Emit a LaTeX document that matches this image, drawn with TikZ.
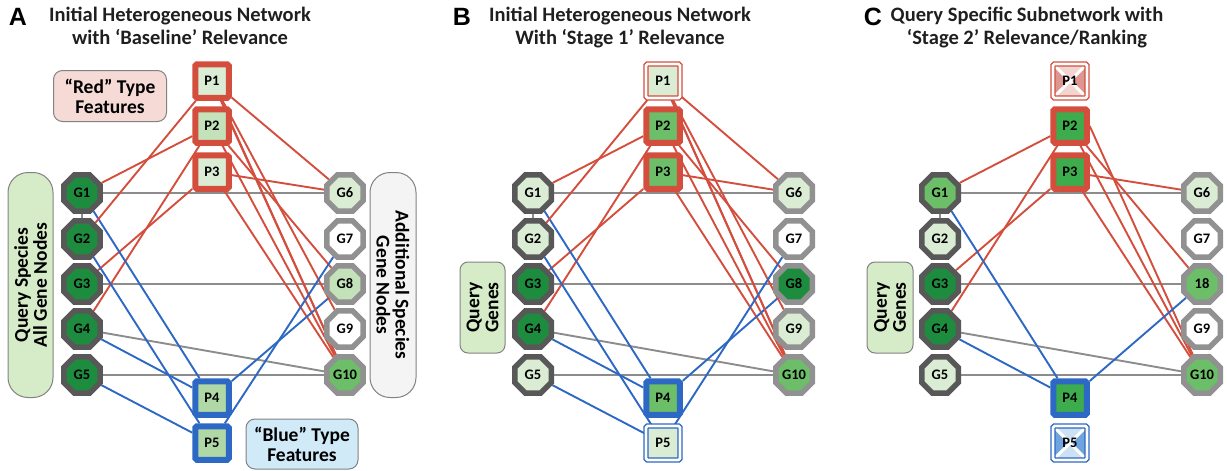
\documentclass[tikz,border=0pt]{standalone}
\usepackage{fontspec}
\setmainfont{Carlito}
\newfontfamily\letterfont{Liberation Sans}
\usetikzlibrary{shapes.geometric,backgrounds}
\definecolor{dkgreen}{RGB}{30,140,62}
\definecolor{mdgreen}{RGB}{108,190,104}
\definecolor{brgreen}{RGB}{60,172,76}
\definecolor{ltgreen}{RGB}{218,236,212}
\definecolor{plgreen}{RGB}{196,226,186}
\definecolor{pgA}{RGB}{176,216,166}
\definecolor{redc}{RGB}{212,78,62}
\definecolor{bluec}{RGB}{44,104,196}
\definecolor{grayE}{RGB}{140,140,140}
\definecolor{gdark}{RGB}{88,88,88}
\definecolor{glight}{RGB}{145,145,145}
\definecolor{pinkbox}{RGB}{246,218,214}
\definecolor{bluebox}{RGB}{208,234,248}
\definecolor{greenbox}{RGB}{214,235,200}
\definecolor{graybox}{RGB}{244,244,244}
\definecolor{boxline}{RGB}{130,130,130}
\definecolor{pinkX}{RGB}{222,150,144}
\definecolor{pinkXl}{RGB}{242,212,208}
\definecolor{blueX}{RGB}{110,165,222}
\definecolor{blueXl}{RGB}{205,225,245}
\tikzset{
 gn/.style={regular polygon, regular polygon sides=8, minimum size=39.5pt, line width=5.5pt, inner sep=0pt, font=\bfseries\fontsize{14.5}{14.5}\selectfont},
 gL/.style={gn, draw=gdark},
 gR/.style={gn, draw=glight},
 pn/.style={rectangle, minimum size=33.5pt, inner sep=0pt, line width=6pt, rounded corners=1.5pt, font=\bfseries\fontsize{14.5}{14.5}\selectfont},
 pR/.style={pn, draw=redc},
 pB/.style={pn, draw=bluec},
 pRd/.style={pn, minimum size=34pt, line width=1.4pt, draw=redc, double=white, double distance=2.6pt},
 pBd/.style={pn, minimum size=34pt, line width=1.4pt, draw=bluec, double=white, double distance=2.6pt},
 xpat/.style 2 args={path picture={
   \fill[#2] (path picture bounding box.north west) rectangle (path picture bounding box.south east);
   \fill[#1] (path picture bounding box.north west) -- (path picture bounding box.center) -- (path picture bounding box.south west) -- cycle;
   \fill[#1] (path picture bounding box.north east) -- (path picture bounding box.center) -- (path picture bounding box.south east) -- cycle;
   \draw[white, line width=3pt] (path picture bounding box.north west) -- (path picture bounding box.south east)
     (path picture bounding box.north east) -- (path picture bounding box.south west);}},
 re/.style={draw=redc, line width=1.9pt},
 be/.style={draw=bluec, line width=1.9pt},
 ge/.style={draw=grayE, line width=1.9pt},
 ttl/.style={font=\bfseries\fontsize{20.5}{22}\selectfont, text=black!88, inner sep=0pt, anchor=base},
 letter/.style={font=\letterfont\bfseries\fontsize{25}{25}\selectfont, inner sep=0pt},
 fbox/.style={draw=boxline, line width=1pt, rounded corners=9pt, align=center, font=\bfseries\fontsize{19.5}{20}\selectfont, inner sep=0pt},
 vbox/.style={draw=boxline, line width=1pt, align=center, font=\bfseries\fontsize{19.5}{19}\selectfont, inner sep=0pt},
}
\begin{document}
\begin{tikzpicture}[x=1pt, y=-1pt]
\useasboundingbox (0,0) rectangle (1227,471);

% ---------------- Panel A ----------------
\node[letter] (la) at (18,17) {A};
\node[ttl] (ta1) at (180,21) {Initial Heterogeneous Network};
\node[ttl] (ta2) at (180,44) {with ‘Baseline’ Relevance};
\node[fbox, fill=pinkbox, minimum width=113pt, minimum height=51pt] (redA) at (110,96) {“Red” Type\\Features};
\node[fbox, fill=bluebox, minimum width=112pt, minimum height=50pt] (blueA) at (302,444) {“Blue” Type\\Features};
\node[vbox, fill=greenbox, rounded corners=20pt, rotate=90, minimum width=225pt, minimum height=45pt] (qA) at (30.5,285) {Query Species\\All Gene Nodes};
\node[vbox, fill=graybox, rounded corners=20pt, rotate=-90, minimum width=225pt, minimum height=46pt] (adA) at (393,285) {Additional Species\\Gene Nodes};

\node[gL, fill=dkgreen] (aG1) at (82,193) {G1};
\node[gL, fill=dkgreen] (aG2) at (82,239) {G2};
\node[gL, fill=dkgreen] (aG3) at (82,284) {G3};
\node[gL, fill=dkgreen] (aG4) at (82,329) {G4};
\node[gL, fill=dkgreen] (aG5) at (82,375) {G5};
\node[gR, fill=ltgreen] (aG6) at (345,193) {G6};
\node[gR, fill=white] (aG7) at (345,239) {G7};
\node[gR, fill=plgreen] (aG8) at (345,284) {G8};
\node[gR, fill=white] (aG9) at (345,329) {G9};
\node[gR, fill=mdgreen] (aG10) at (345,375) {G10};
\node[pR, fill=ltgreen] (aP1) at (212,81) {P1};
\node[pR, fill=plgreen] (aP2) at (212,126) {P2};
\node[pR, fill=ltgreen] (aP3) at (212,172) {P3};
\node[pB, fill=pgA] (aP4) at (212,398) {P4};
\node[pB, fill=pgA] (aP5) at (212,443) {P5};

% ---------------- Panel B ----------------
\node[letter] (lb) at (462,17) {B};
\node[ttl] (tb1) at (620,21) {Initial Heterogeneous Network};
\node[ttl] (tb2) at (620,44) {With ‘Stage 1’ Relevance};
\node[vbox, fill=greenbox, rounded corners=8pt, rotate=90, minimum width=91pt, minimum height=45pt] (qB) at (482.5,307.5) {Query\\Genes};

\node[gL, fill=ltgreen] (bG1) at (533,193) {G1};
\node[gL, fill=ltgreen] (bG2) at (533,239) {G2};
\node[gL, fill=dkgreen] (bG3) at (533,284) {G3};
\node[gL, fill=dkgreen] (bG4) at (533,329) {G4};
\node[gL, fill=ltgreen] (bG5) at (533,375) {G5};
\node[gR, fill=ltgreen] (bG6) at (794,193) {G6};
\node[gR, fill=white] (bG7) at (794,239) {G7};
\node[gR, fill=dkgreen] (bG8) at (794,284) {G8};
\node[gR, fill=ltgreen] (bG9) at (794,329) {G9};
\node[gR, fill=mdgreen] (bG10) at (794,375) {G10};
\node[pRd, fill=ltgreen] (bP1) at (663,81) {P1};
\node[pR, fill=mdgreen] (bP2) at (663,126) {P2};
\node[pR, fill=mdgreen] (bP3) at (663,172) {P3};
\node[pB, fill=mdgreen] (bP4) at (663,398) {P4};
\node[pBd, fill=ltgreen] (bP5) at (663,443) {P5};

% ---------------- Panel C ----------------
\node[letter] (lc) at (873,17) {C};
\node[ttl] (tc1) at (1027,21) {Query Specific Subnetwork with};
\node[ttl] (tc2) at (1027,44) {‘Stage 2’ Relevance/Ranking};
\node[vbox, fill=greenbox, rounded corners=8pt, rotate=90, minimum width=91pt, minimum height=46pt] (qC) at (890,307.5) {Query\\Genes};

\node[gL, fill=mdgreen] (cG1) at (940,193) {G1};
\node[gL, fill=ltgreen] (cG2) at (940,239) {G2};
\node[gL, fill=dkgreen] (cG3) at (940,284) {G3};
\node[gL, fill=dkgreen] (cG4) at (940,329) {G4};
\node[gL, fill=ltgreen] (cG5) at (940,375) {G5};
\node[gR, fill=ltgreen] (cG6) at (1202,193) {G6};
\node[gR, fill=white] (cG7) at (1202,239) {G7};
\node[gR, fill=mdgreen] (cG8) at (1202,284) {18};
\node[gR, fill=white] (cG9) at (1202,329) {G9};
\node[gR, fill=mdgreen] (cG10) at (1202,375) {G10};
\node[pRd, fill=white, xpat={pinkX}{pinkXl}] (cP1) at (1070,81) {P1};
\node[pR, fill=brgreen] (cP2) at (1070,126) {P2};
\node[pR, fill=brgreen] (cP3) at (1070,172) {P3};
\node[pB, fill=brgreen] (cP4) at (1070,398) {P4};
\node[pBd, fill=white, xpat={blueX}{blueXl}] (cP5) at (1070,443) {P5};

% ---------------- Edges ----------------
\begin{scope}[on background layer]
\foreach \p in {a,b,c}{
  \draw[ge] (\p G1) -- (\p G2);
  \draw[ge] (\p G1) -- (\p G6);
  \draw[ge] (\p G3) -- (\p G8);
  \draw[ge] (\p G4) -- (\p G10);
  \draw[ge] (\p G5) -- (\p G10);
  \draw[re] (\p P2) -- (\p G1);
  \draw[re] (\p P2) -- (\p G4);
  \draw[re] (\p P3) -- (\p G3);
  \draw[re] (\p P2) -- (\p G8);
  \draw[re] (\p P2) -- (\p G10);
  \draw[re] (\p P2.east) -- (\p G10);
  \draw[re] (\p P3) -- (\p G6);
  \draw[re] (\p P3) -- (\p G10);
  \draw[be] (\p G1) -- (\p P4);
  \draw[be] (\p G4) -- (\p P4);
  \draw[be] (\p P4) -- (\p G8);
}
\foreach \p in {a,b}{
  \draw[re] (\p P1) -- (\p G2);
  \draw[re] (\p P1) -- (\p G6);
  \draw[re] (\p P1) -- (\p G9);
  \draw[re] (\p P1) -- (\p G10);
  \draw[be] (\p G2) -- (\p P5);
  \draw[be] (\p G5) -- (\p P5);
  \draw[be] (\p P5) -- (\p G7);
}
\end{scope}
\end{tikzpicture}
\end{document}
